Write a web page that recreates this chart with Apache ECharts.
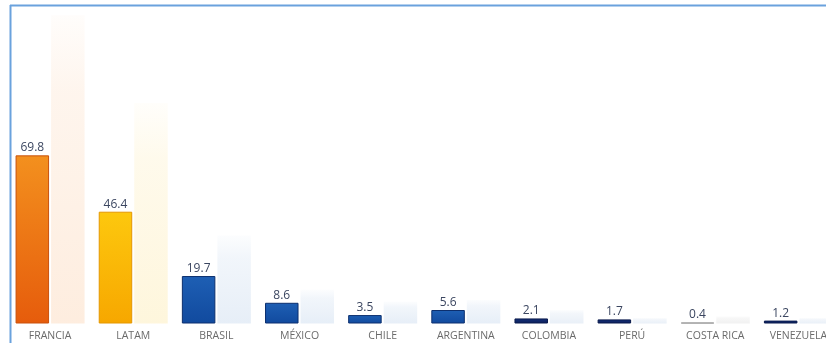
<!DOCTYPE html>
<html>
<head>
<meta charset="utf-8">
<script src="https://cdn.jsdelivr.net/npm/echarts@6/dist/echarts.min.js"></script>
<style>
html,body{margin:0;padding:0;background:#fff;}
#chart{width:826px;height:343px;}
</style>
</head>
<body>
<div id="chart"></div>
<script>
// Data
const categories = ['FRANCIA','LATAM','BRASIL','MÉXICO','CHILE','ARGENTINA','COLOMBIA','PERÚ','COSTA RICA','VENEZUELA'];
const values = [69.8, 46.4, 19.7, 8.6, 3.5, 5.6, 2.1, 1.7, 0.4, 1.2];
const ghostValues = [128, 91.5, 36.5, 14, 9, 9.8, 5.6, 2.3, 3, 2.3];

// Styles (by category index)
const ORANGE = {top:'#f3901e', bottom:'#e65c0c', border:'#c9510c', ghost:'rgba(250,185,130,'};
const YELLOW = {top:'#fdc80e', bottom:'#f7a700', border:'#e49700', ghost:'rgba(252,220,120,'};
const BLUE   = {top:'#1e5fb4', bottom:'#114a9e', border:'#0c2f6e', ghost:'rgba(160,190,225,'};
const NAVY   = {top:'#14307a', bottom:'#0c1f5a', border:'#0a1a4c', ghost:'rgba(170,195,225,'};
const GREY   = {top:'#9a9a9a', bottom:'#9a9a9a', border:'#9a9a9a', ghost:'rgba(200,200,200,'};
const palette = [ORANGE, YELLOW, BLUE, BLUE, BLUE, BLUE, NAVY, NAVY, GREY, NAVY];

function grad(c){
  return new echarts.graphic.LinearGradient(0,0,0,1,[{offset:0,color:c.top},{offset:1,color:c.bottom}]);
}
function ghostGrad(c){
  return new echarts.graphic.LinearGradient(0,0,0,1,[
    {offset:0,color:c.ghost+'0.03)'},
    {offset:0.25,color:c.ghost+'0.14)'},
    {offset:1,color:c.ghost+'0.26)'}]);
}

const chart = echarts.init(document.getElementById('chart'), null, {renderer:'canvas'});
chart.setOption({
  animation:false,
  backgroundColor:'#ffffff',
  grid:{left:8.5, right:-14, top:5.5, bottom:19.5, containLabel:false, outerBoundsMode:'none'},
  xAxis:{
    type:'category',
    data:categories,
    axisLine:{show:false},
    axisTick:{show:false},
    axisLabel:{interval:0, margin:7, fontSize:10.5, color:'#6a6a6a', fontFamily:'Open Sans'}
  },
  yAxis:{type:'value', min:0, max:132, show:false, splitLine:{show:false}},
  series:[
    {
      type:'bar',
      barWidth:33.5,
      barGap:'6%',
      data:values.map((v,i)=>({
        value:v,
        itemStyle:{color:grad(palette[i]), borderColor:palette[i].border, borderWidth:1}
      })),
      label:{show:true, position:'top', distance:1.5, fontSize:12, color:'#3b4660', fontFamily:'Open Sans'},
      z:3
    },
    {
      type:'bar',
      barWidth:33.5,
      data:ghostValues.map((v,i)=>({
        value:v,
        itemStyle:{color:ghostGrad(palette[i])}
      })),
      z:2
    }
  ],
  graphic:[
    {type:'line', shape:{x1:10, y1:5.5, x2:826, y2:5.5}, style:{stroke:'#6aa2dd', lineWidth:2}, z:10},
    {type:'line', shape:{x1:10.5, y1:5, x2:10.5, y2:343}, style:{stroke:'#6aa2dd', lineWidth:2}, z:10}
  ]
});
</script>
</body>
</html>
